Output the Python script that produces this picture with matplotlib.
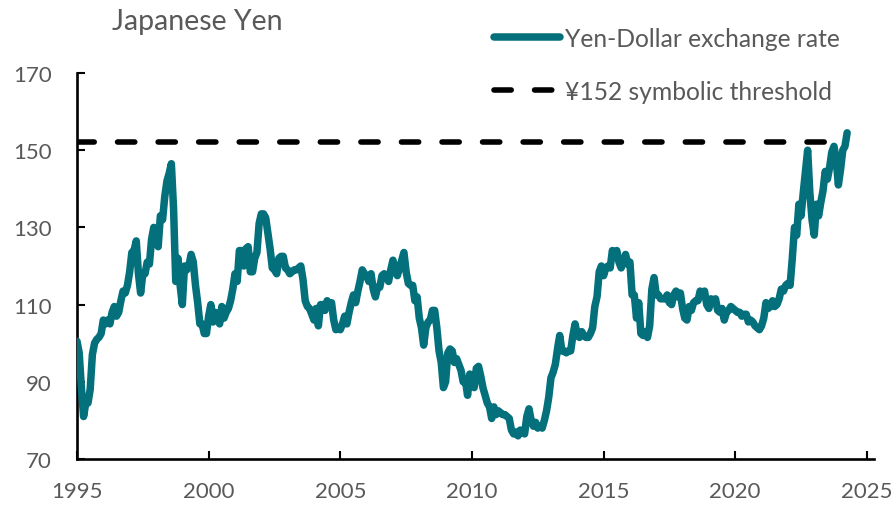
import numpy as np
import matplotlib
matplotlib.use("Agg")
import matplotlib.pyplot as plt

# Monthly Yen-Dollar exchange rate (yen per USD), starting January of each block
rate_1995_1999 = [
    100.5, 97.5, 88.5, 81.0, 84.5, 84.5, 88.0, 97.0, 100.0, 101.0, 101.5, 102.5,
    106.0, 105.0, 106.0, 105.0, 108.0, 109.5, 107.0, 108.0, 111.0, 113.5, 113.0, 115.0,
    118.5, 123.5, 124.0, 126.5, 118.0, 113.0, 118.0, 118.0, 121.0, 120.5, 127.0, 130.0,
    127.0, 125.0, 133.0, 132.0, 138.0, 142.0, 144.0, 146.5, 135.0, 116.0, 122.0, 115.0,
    110.0, 120.0, 119.0, 120.0, 123.0, 121.0, 115.0, 110.5, 105.0, 105.0, 102.5, 102.5,
]
rate_2000_2004 = [
    107.0, 110.0, 105.5, 108.0, 107.0, 105.0, 109.5, 106.5, 108.0, 109.0, 111.0, 114.0,
    118.0, 116.0, 124.0, 124.0, 120.0, 124.5, 125.0, 118.5, 118.5, 122.0, 123.5, 131.0,
    133.5, 133.5, 132.5, 128.5, 124.5, 119.5, 119.0, 118.0, 122.0, 122.5, 122.5, 119.5,
    119.0, 118.0, 118.5, 119.0, 119.0, 119.5, 120.0, 116.5, 111.0, 109.5, 109.0, 107.5,
    106.0, 109.0, 104.5, 110.0, 110.0, 108.5, 111.0, 109.5, 110.5, 106.0, 103.5, 104.0,
]
rate_2005_2009 = [
    103.5, 105.0, 107.0, 105.0, 108.0, 110.5, 112.5, 110.5, 113.5, 116.0, 119.0, 118.0,
    117.5, 116.0, 118.0, 114.0, 112.0, 114.5, 114.5, 117.5, 118.0, 117.5, 116.0, 119.0,
    121.5, 119.0, 117.5, 119.5, 121.5, 123.5, 118.5, 115.5, 115.0, 115.0, 111.0, 112.0,
    106.5, 104.0, 99.5, 104.0, 105.5, 106.0, 108.5, 108.5, 104.0, 98.0, 95.0, 88.5,
    90.0, 97.5, 98.5, 98.0, 95.0, 96.0, 94.5, 93.0, 90.0, 90.5, 86.5, 92.0,
]
rate_2010_2014 = [
    90.5, 88.5, 93.5, 94.0, 91.5, 88.5, 86.5, 84.5, 83.5, 80.5, 83.5, 81.5,
    82.5, 82.0, 81.5, 81.5, 81.0, 80.5, 77.5, 76.5, 77.0, 76.0, 77.5, 77.0,
    76.5, 81.0, 83.0, 80.0, 78.5, 79.5, 78.0, 78.5, 78.0, 80.0, 82.5, 86.0,
    91.0, 92.5, 94.5, 98.5, 102.0, 98.0, 98.0, 97.5, 98.0, 98.0, 102.0, 105.0,
    102.0, 101.5, 103.0, 102.0, 101.5, 101.5, 102.5, 104.0, 109.5, 112.0, 118.5, 120.0,
]
rate_2015_2019 = [
    117.5, 119.5, 120.0, 119.5, 124.0, 122.5, 124.0, 121.0, 119.5, 121.0, 123.0, 120.5,
    121.0, 112.5, 112.5, 106.5, 110.5, 102.5, 102.0, 103.0, 101.5, 104.5, 114.0, 117.0,
    112.5, 112.5, 111.5, 111.5, 111.5, 112.5, 110.5, 110.0, 112.5, 113.5, 112.0, 113.0,
    109.0, 106.5, 106.0, 109.5, 108.5, 110.5, 111.0, 111.0, 113.5, 113.0, 113.5, 110.0,
    109.0, 111.5, 110.5, 111.5, 108.5, 108.0, 109.0, 106.0, 108.0, 108.5, 109.5, 109.0,
]
rate_2020_2024 = [
    108.5, 108.0, 108.0, 107.0, 107.5, 107.5, 105.5, 106.0, 105.5, 104.5, 104.0, 103.5,
    104.5, 106.5, 110.5, 109.0, 109.5, 111.0, 109.5, 110.0, 111.5, 114.0, 113.5, 115.0,
    115.5, 115.0, 122.0, 130.0, 128.0, 136.0, 133.0, 139.0, 144.5, 150.0, 139.0, 132.0,
    128.0, 136.0, 133.0, 136.5, 139.5, 144.5, 142.5, 145.5, 149.5, 151.0, 147.5, 141.0,
    145.0, 150.0, 151.0, 154.5,
]
start_year = 1995
threshold = 152
series_label = "Yen-Dollar exchange rate"
threshold_label = "\u00a5152 symbolic threshold"
title = "Japanese Yen"
x_ticks = [1995, 2000, 2005, 2010, 2015, 2020, 2025]
y_ticks = [70, 90, 110, 130, 150, 170]

rates = np.array(rate_1995_1999 + rate_2000_2004 + rate_2005_2009 +
                 rate_2010_2014 + rate_2015_2019 + rate_2020_2024)
years = start_year + np.arange(len(rates)) / 12.0

TEAL = "#03707C"
GRAY = "#595959"
FONT = "Lato"

fig = plt.figure(figsize=(8.91, 5.06), dpi=100)
ax = fig.add_axes([77 / 891, 46 / 506, (874 - 77) / 891, (460 - 74) / 506])

ax.plot(years, rates, color=TEAL, lw=5.4, solid_joinstyle="round",
        solid_capstyle="round", label=series_label, zorder=3)
ax.plot([years[0], years[-1]], [threshold, threshold], color="black", lw=4.0,
        dashes=(3.1, 4.2), dash_capstyle="round", label=threshold_label, zorder=2)

ax.set_xlim(1995, 2025.27)
ax.set_ylim(70, 170)
ax.set_xticks(x_ticks)
ax.set_yticks(y_ticks)

for s in ["top", "right"]:
    ax.spines[s].set_visible(False)
for s in ["left", "bottom"]:
    ax.spines[s].set_linewidth(1.9)
    ax.spines[s].set_color("black")
    ax.spines[s].set_capstyle("projecting")

ax.tick_params(direction="in", length=5.5, width=1.5, colors="black",
               labelcolor=GRAY, labelsize=16)
ax.tick_params(axis="y", pad=18)
ax.tick_params(axis="x", pad=16)
for lab in ax.get_xticklabels() + ax.get_yticklabels():
    lab.set_fontfamily(FONT)

fig.text(112 / 891, 1 - 22 / 506, title, fontsize=20.5, color=GRAY,
         family=FONT, ha="left", va="center")

leg = fig.legend(loc="upper left", bbox_to_anchor=(494 / 891, 1 - 28 / 506),
                 frameon=False, prop={"family": FONT, "size": 17.7},
                 handlelength=2.7, handletextpad=0.2, labelspacing=1.2,
                 borderpad=0, borderaxespad=0, labelcolor=GRAY)

fig.savefig("out.png", dpi=100)
